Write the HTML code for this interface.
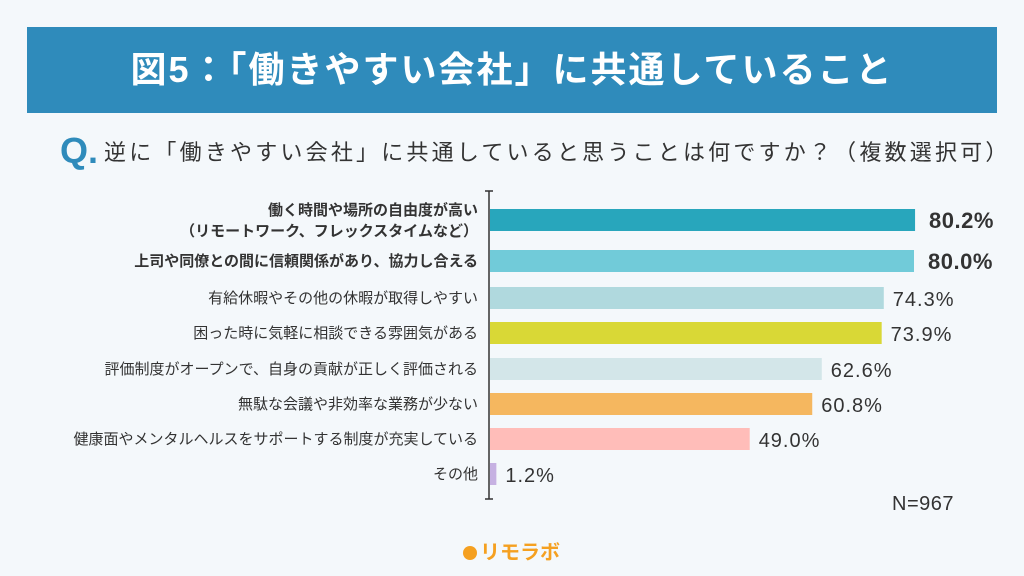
<!DOCTYPE html>
<html><head><meta charset="utf-8">
<style>
body{margin:0;width:1024px;height:576px;background:#f4f8fb;font-family:"Liberation Sans","Noto Sans CJK JP",sans-serif;position:relative;overflow:hidden;color:#333}
#banner{position:absolute;left:27px;top:27px;width:970px;height:86px;background:#2f8bbb;color:#fff;font-size:36px;font-weight:bold;text-align:center;line-height:86px;letter-spacing:2px}
#q{position:absolute;left:60px;top:132px;font-size:22px;line-height:38px;letter-spacing:3.2px;color:#333;white-space:nowrap}
#q b{color:#2f8bbb;font-size:36px;font-weight:900;margin-right:6px;vertical-align:-3px;font-family:"Liberation Sans",sans-serif;letter-spacing:0}
svg{position:absolute;left:0;top:0}
#n{position:absolute;left:892px;top:493px;font-size:20px;letter-spacing:0.5px;color:#333}
#logo{position:absolute;left:463px;top:536px;font-size:20px;font-weight:bold;color:#f5a020}
#logo span{display:inline-block;width:14px;height:14px;border-radius:50%;background:#f5a020;margin-right:3px;vertical-align:-1px}
</style></head><body>
<div id="banner">図5：「働きやすい会社」に共通していること</div>
<div id="q"><b>Q.</b>逆に「働きやすい会社」に共通していると思うことは何ですか？（複数選択可）</div>
<svg id="chart" width="1024" height="576"></svg>
<div id="n">N=967</div>
<div id="logo"><span></span>リモラボ</div>
<script>
const categories=[["働く時間や場所の自由度が高い","（リモートワーク、フレックスタイムなど）"],["上司や同僚との間に信頼関係があり、協力し合える"],["有給休暇やその他の休暇が取得しやすい"],["困った時に気軽に相談できる雰囲気がある"],["評価制度がオープンで、自身の貢献が正しく評価される"],["無駄な会議や非効率な業務が少ない"],["健康面やメンタルヘルスをサポートする制度が充実している"],["その他"]];
const values=[80.2,80.0,74.3,73.9,62.6,60.8,49.0,1.2];
const valueLabels=["80.2%","80.0%","74.3%","73.9%","62.6%","60.8%","49.0%","1.2%"];
const colors=["#28a6bc","#71cbd9","#b0d9de","#d9d836","#d3e6e9","#f5b75f","#ffbdb9","#c6b1e2"];
const svg=document.getElementById('chart');const NS='http://www.w3.org/2000/svg';
const x0=490,scale=5.3;
const rowTops=[209,250,287,322,358,393,428,463],bh=22;
function xs(v){return x0+v*scale;}
function mk(t,a){const e=document.createElementNS(NS,t);for(const k in a)e.setAttribute(k,a[k]);svg.appendChild(e);return e;}
values.forEach((v,i)=>{
 const y=rowTops[i];
 const r=mk('rect',{x:x0,y:y,width:xs(v)-x0,height:bh,fill:colors[i]});
 
 
 const bold=i<2;
 const t=mk('text',{x:xs(v)+(bold?14:9),y:y+bh/2+8,'font-size':bold?22:20,'font-weight':bold?'bold':'normal','letter-spacing':bold?0.5:1,fill:'#333'});
 t.textContent=valueLabels[i];
 
 
 const lines=categories[i];
 lines.forEach((ln,j)=>{
  const cy=lines.length>1?y+bh/2-10+j*21:y+bh/2;
  const c=mk('text',{x:478,y:cy+5,'text-anchor':'end','font-size':15,'font-weight':bold?'bold':'normal',fill:'#333'});
  c.textContent=ln;
  
  
 });
});
const ax=mk('line',{x1:489,y1:191,x2:489,y2:499,stroke:'#333','stroke-width':1.5});


mk('line',{x1:485,y1:191,x2:493,y2:191,stroke:'#333','stroke-width':1.5});
mk('line',{x1:485,y1:499,x2:493,y2:499,stroke:'#333','stroke-width':1.5});
</script>
</body></html>
